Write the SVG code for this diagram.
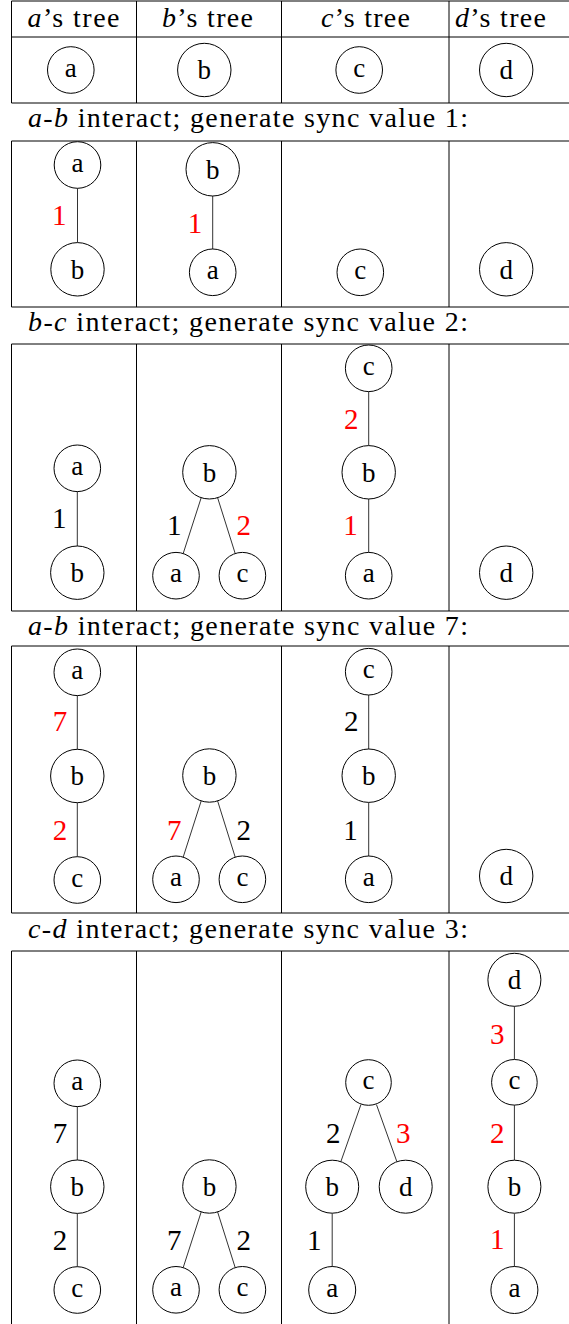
<svg xmlns="http://www.w3.org/2000/svg" width="569" height="1324" viewBox="0 0 569 1324" font-family="'Liberation Serif','DejaVu Serif','Times New Roman',serif">
<style>
text{font-family:"Liberation Serif","DejaVu Serif","Times New Roman",serif;fill:#000}
.n circle{fill:#fff;stroke:#000;stroke-width:1}
.n text{text-anchor:middle;font-size:27px}
.e line{stroke:#333;stroke-width:1}
.t line{stroke:#000;stroke-width:1}
.lb text{text-anchor:middle;font-size:29px}
.lb .r{fill:#f00}
.cap{font-size:28px}
.hd{font-size:28px;text-anchor:middle}
.it{font-style:italic}
</style>
<rect width="569" height="1324" fill="#fff"/>
<g id="table" class="t">
<line x1="11.5" y1="1" x2="569" y2="1"/>
<line x1="11.5" y1="37" x2="569" y2="37"/>
<line x1="11.5" y1="103" x2="569" y2="103"/>
<line x1="11.5" y1="141" x2="569" y2="141"/>
<line x1="11.5" y1="307" x2="569" y2="307"/>
<line x1="11.5" y1="344" x2="569" y2="344"/>
<line x1="11.5" y1="611" x2="569" y2="611"/>
<line x1="11.5" y1="646" x2="569" y2="646"/>
<line x1="11.5" y1="913" x2="569" y2="913"/>
<line x1="11.5" y1="951" x2="569" y2="951"/>
<line x1="11.5" y1="1" x2="11.5" y2="103"/>
<line x1="136.5" y1="1" x2="136.5" y2="103"/>
<line x1="281.5" y1="1" x2="281.5" y2="103"/>
<line x1="449" y1="1" x2="449" y2="103"/>
<line x1="11.5" y1="141" x2="11.5" y2="307"/>
<line x1="136.5" y1="141" x2="136.5" y2="307"/>
<line x1="281.5" y1="141" x2="281.5" y2="307"/>
<line x1="449" y1="141" x2="449" y2="307"/>
<line x1="11.5" y1="344" x2="11.5" y2="611"/>
<line x1="136.5" y1="344" x2="136.5" y2="611"/>
<line x1="281.5" y1="344" x2="281.5" y2="611"/>
<line x1="449" y1="344" x2="449" y2="611"/>
<line x1="11.5" y1="646" x2="11.5" y2="913"/>
<line x1="136.5" y1="646" x2="136.5" y2="913"/>
<line x1="281.5" y1="646" x2="281.5" y2="913"/>
<line x1="449" y1="646" x2="449" y2="913"/>
<line x1="11.5" y1="951" x2="11.5" y2="1324"/>
<line x1="136.5" y1="951" x2="136.5" y2="1324"/>
<line x1="281.5" y1="951" x2="281.5" y2="1324"/>
<line x1="449" y1="951" x2="449" y2="1324"/>
</g>
<g id="headers">
<text class="hd" x="73.5" y="27" textLength="92" lengthAdjust="spacing"><tspan class="it">a</tspan>’s tree</text>
<text class="hd" x="207.5" y="27" textLength="91" lengthAdjust="spacing"><tspan class="it">b</tspan>’s tree</text>
<text class="hd" x="365.5" y="27" textLength="89" lengthAdjust="spacing"><tspan class="it">c</tspan>’s tree</text>
<text class="hd" x="500.5" y="27" textLength="91" lengthAdjust="spacing"><tspan class="it">d</tspan>’s tree</text>
</g>
<g id="captions">
<text class="cap" x="28" y="127" textLength="440" lengthAdjust="spacing"><tspan class="it">a</tspan>-<tspan class="it">b</tspan> interact; generate sync value 1:</text>
<text class="cap" x="28" y="331" textLength="440" lengthAdjust="spacing"><tspan class="it">b</tspan>-<tspan class="it">c</tspan> interact; generate sync value 2:</text>
<text class="cap" x="28" y="635" textLength="440" lengthAdjust="spacing"><tspan class="it">a</tspan>-<tspan class="it">b</tspan> interact; generate sync value 7:</text>
<text class="cap" x="28" y="938" textLength="440" lengthAdjust="spacing"><tspan class="it">c</tspan>-<tspan class="it">d</tspan> interact; generate sync value 3:</text>
</g>
<g id="connectors" class="e">
<line x1="77.5" y1="188.3" x2="77.5" y2="242.6"/>
<line x1="212.7" y1="196" x2="212.7" y2="249"/>
<line x1="77.3" y1="491.6" x2="77.3" y2="546"/>
<line x1="201.2" y1="497.7" x2="183.2" y2="553.5"/>
<line x1="217.6" y1="497.7" x2="235.2" y2="553.5"/>
<line x1="368.7" y1="391.6" x2="368.7" y2="445.6"/>
<line x1="368.7" y1="499" x2="368.7" y2="552.4"/>
<line x1="77.3" y1="695.6" x2="77.3" y2="749.3"/>
<line x1="77.3" y1="802.7" x2="77.3" y2="856.7"/>
<line x1="201.2" y1="800.9" x2="183.2" y2="857.1"/>
<line x1="217.6" y1="800.9" x2="235.2" y2="857.1"/>
<line x1="368.7" y1="695" x2="368.7" y2="749"/>
<line x1="368.7" y1="802.4" x2="368.7" y2="856"/>
<line x1="77.3" y1="1106.6" x2="77.3" y2="1160"/>
<line x1="77.3" y1="1213.4" x2="77.3" y2="1266.7"/>
<line x1="201.2" y1="1211.9" x2="183.2" y2="1267.6"/>
<line x1="217.6" y1="1211.9" x2="235.2" y2="1267.6"/>
<line x1="360.9" y1="1104.7" x2="340.9" y2="1161.5"/>
<line x1="376.5" y1="1104.7" x2="396.8" y2="1161.5"/>
<line x1="332.2" y1="1213.4" x2="332.2" y2="1266.7"/>
<line x1="514.4" y1="1006.3" x2="514.4" y2="1059.3"/>
<line x1="514.4" y1="1105.2" x2="514.4" y2="1160"/>
<line x1="514.4" y1="1213.4" x2="514.4" y2="1266.7"/>
</g>
<g id="labels" class="lb">
<text class="r" x="59.3" y="225">1</text>
<text class="r" x="195" y="232.5">1</text>
<text x="59.3" y="527.5">1</text>
<text x="174.2" y="535">1</text>
<text class="r" x="243.8" y="535">2</text>
<text class="r" x="351.2" y="428.5">2</text>
<text class="r" x="350.5" y="535">1</text>
<text class="r" x="59.9" y="731">7</text>
<text class="r" x="59.9" y="840">2</text>
<text class="r" x="174.2" y="839.5">7</text>
<text x="243.8" y="839.5">2</text>
<text x="351.2" y="731">2</text>
<text x="350.5" y="839.5">1</text>
<text x="59.9" y="1142.5">7</text>
<text x="59.9" y="1250">2</text>
<text x="174.2" y="1249.5">7</text>
<text x="243.8" y="1249.5">2</text>
<text x="333.3" y="1142.5">2</text>
<text class="r" x="403.3" y="1142.5">3</text>
<text x="314.3" y="1249.5">1</text>
<text class="r" x="497.3" y="1044">3</text>
<text class="r" x="497.3" y="1142.5">2</text>
<text class="r" x="497.3" y="1249">1</text>
</g>
<g id="r1a" class="n"><circle cx="70.8" cy="70" r="23.3"/><text x="70.8" y="76.5">a</text></g>
<g id="r1b" class="n"><circle cx="204.3" cy="70" r="26.7"/><text x="204.3" y="79.3">b</text></g>
<g id="r1c" class="n"><circle cx="359.2" cy="70" r="23.3"/><text x="359.2" y="76.5">c</text></g>
<g id="r1d" class="n"><circle cx="506.2" cy="70" r="26.7"/><text x="506.2" y="79.3">d</text></g>
<g id="r2a1" class="n"><circle cx="77.5" cy="165" r="23.3"/><text x="77.5" y="171.5">a</text></g>
<g id="r2b1" class="n"><circle cx="77.5" cy="269.3" r="26.7"/><text x="77.5" y="278.6">b</text></g>
<g id="r2b2" class="n"><circle cx="212.7" cy="169.3" r="26.7"/><text x="212.7" y="178.6">b</text></g>
<g id="r2a2" class="n"><circle cx="212.7" cy="272.3" r="23.3"/><text x="212.7" y="278.8">a</text></g>
<g id="r2c3" class="n"><circle cx="360.3" cy="272.3" r="23.3"/><text x="360.3" y="278.8">c</text></g>
<g id="r2d4" class="n"><circle cx="506.2" cy="269.3" r="26.7"/><text x="506.2" y="278.6">d</text></g>
<g id="r3a1" class="n"><circle cx="77.3" cy="468.3" r="23.3"/><text x="77.3" y="474.8">a</text></g>
<g id="r3b1" class="n"><circle cx="77.3" cy="572.7" r="26.7"/><text x="77.3" y="582">b</text></g>
<g id="r3b2" class="n"><circle cx="209.4" cy="472.3" r="26.7"/><text x="209.4" y="481.6">b</text></g>
<g id="r3a2" class="n"><circle cx="176" cy="575.7" r="23.3"/><text x="176" y="582.2">a</text></g>
<g id="r3c2" class="n"><circle cx="242.4" cy="575.7" r="23.3"/><text x="242.4" y="582.2">c</text></g>
<g id="r3c3" class="n"><circle cx="368.7" cy="368.3" r="23.3"/><text x="368.7" y="374.8">c</text></g>
<g id="r3b3" class="n"><circle cx="368.7" cy="472.3" r="26.7"/><text x="368.7" y="481.6">b</text></g>
<g id="r3a3" class="n"><circle cx="368.7" cy="575.7" r="23.3"/><text x="368.7" y="582.2">a</text></g>
<g id="r3d4" class="n"><circle cx="506.2" cy="572.7" r="26.7"/><text x="506.2" y="582">d</text></g>
<g id="r4a1" class="n"><circle cx="77.3" cy="672.3" r="23.3"/><text x="77.3" y="678.8">a</text></g>
<g id="r4b1" class="n"><circle cx="77.3" cy="776" r="26.7"/><text x="77.3" y="785.3">b</text></g>
<g id="r4c1" class="n"><circle cx="77.3" cy="880" r="23.3"/><text x="77.3" y="886.5">c</text></g>
<g id="r4b2" class="n"><circle cx="209.4" cy="775.5" r="26.7"/><text x="209.4" y="784.8">b</text></g>
<g id="r4a2" class="n"><circle cx="176" cy="879.3" r="23.3"/><text x="176" y="885.8">a</text></g>
<g id="r4c2" class="n"><circle cx="242.4" cy="879.3" r="23.3"/><text x="242.4" y="885.8">c</text></g>
<g id="r4c3" class="n"><circle cx="368.7" cy="671.7" r="23.3"/><text x="368.7" y="678.2">c</text></g>
<g id="r4b3" class="n"><circle cx="368.7" cy="775.7" r="26.7"/><text x="368.7" y="785">b</text></g>
<g id="r4a3" class="n"><circle cx="368.7" cy="879.3" r="23.3"/><text x="368.7" y="885.8">a</text></g>
<g id="r4d4" class="n"><circle cx="506.2" cy="876" r="26.7"/><text x="506.2" y="885.3">d</text></g>
<g id="r5a1" class="n"><circle cx="77.3" cy="1083.3" r="23.3"/><text x="77.3" y="1089.8">a</text></g>
<g id="r5b1" class="n"><circle cx="77.3" cy="1186.7" r="26.7"/><text x="77.3" y="1196">b</text></g>
<g id="r5c1" class="n"><circle cx="77.3" cy="1290" r="23.3"/><text x="77.3" y="1296.5">c</text></g>
<g id="r5b2" class="n"><circle cx="209.4" cy="1186.5" r="26.7"/><text x="209.4" y="1195.8">b</text></g>
<g id="r5a2" class="n"><circle cx="176" cy="1289.8" r="23.3"/><text x="176" y="1296.3">a</text></g>
<g id="r5c2" class="n"><circle cx="242.4" cy="1289.8" r="23.3"/><text x="242.4" y="1296.3">c</text></g>
<g id="r5c3" class="n"><circle cx="368.5" cy="1082.5" r="22.8"/><text x="368.5" y="1089">c</text></g>
<g id="r5b3" class="n"><circle cx="332.2" cy="1186.7" r="26.5"/><text x="332.2" y="1196">b</text></g>
<g id="r5d3" class="n"><circle cx="405.7" cy="1186.7" r="26.5"/><text x="405.7" y="1196">d</text></g>
<g id="r5a3" class="n"><circle cx="332.2" cy="1290" r="23.5"/><text x="332.2" y="1296.5">a</text></g>
<g id="r5d4" class="n"><circle cx="514.4" cy="979.8" r="26.5"/><text x="514.4" y="989.1">d</text></g>
<g id="r5c4" class="n"><circle cx="514.4" cy="1082.3" r="22.8"/><text x="514.4" y="1088.8">c</text></g>
<g id="r5b4" class="n"><circle cx="514.4" cy="1186.7" r="26.5"/><text x="514.4" y="1196">b</text></g>
<g id="r5a4" class="n"><circle cx="514.4" cy="1290" r="23.5"/><text x="514.4" y="1296.5">a</text></g>
</svg>
